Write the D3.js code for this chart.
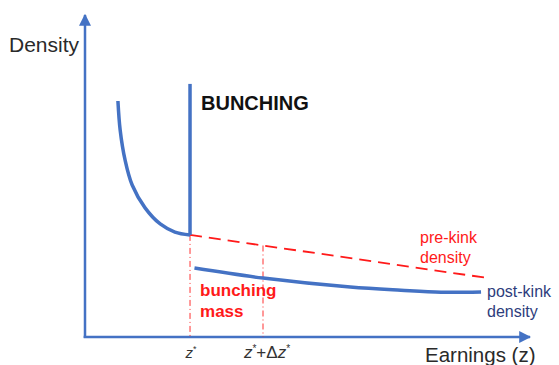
<!DOCTYPE html>
<html><head><meta charset="utf-8">
<script src="https://cdn.jsdelivr.net/npm/d3@7"></script>
<style>body{margin:0;background:#fff}text{font-family:Arial,"Liberation Sans",sans-serif}</style>
</head><body>
<svg id="c" width="559" height="365"></svg>
<script>
// abstract data units (x: earnings, y: density)
const preCurveX = [7.4, 7.9, 9.0, 10.6, 13.5, 16.9, 20.2, 23.6];
const preCurveY = [73.3, 64.3, 55.0, 47.2, 40.1, 35.1, 32.6, 31.7];
const kinkX = 23.6;
const spikeTop = 78.6;
const counterX = [23.6, 90.6];
const counterY = [31.7, 18.3];
const postX = [24.6, 40.0, 59.6, 71.0, 80.0, 89.0];
const postY = [21.4, 18.3, 15.5, 14.5, 13.9, 14.0];
const dzX = 40.0;
const tickLabels = ["z*", "z*+Δz*"];

const svg = d3.select("#c");
const x = d3.scaleLinear().domain([0, 100]).range([85, 530]);
const y = d3.scaleLinear().domain([0, 100]).range([337, 15]);
const blue = "#4472c4", red = "#ff1a1a";

const defs = svg.append("defs");
defs.append("marker").attr("id","arr").attr("viewBox","0 0 10 10").attr("refX",9).attr("refY",5)
  .attr("markerWidth",12).attr("markerHeight",12).attr("orient","auto-start-reverse").attr("markerUnits","userSpaceOnUse")
  .append("path").attr("d","M0,0L10,5L0,10z").attr("fill",blue);

// axes
svg.append("line").attr("x1",x(0)).attr("y1",y(-0.3)).attr("x2",x(0)).attr("y2",y(100))
  .attr("stroke",blue).attr("stroke-width",2.5).attr("marker-end","url(#arr)");
svg.append("line").attr("x1",x(-0.3)).attr("y1",y(0)).attr("x2",x(100)).attr("y2",y(0))
  .attr("stroke",blue).attr("stroke-width",2.5).attr("marker-end","url(#arr)");

// vertical dash-dot guides
const interpCounter = xv => counterY[0] + (counterY[1]-counterY[0])*(xv-counterX[0])/(counterX[1]-counterX[0]);
[kinkX, dzX].forEach(v => {
  svg.append("line").attr("x1",x(v)).attr("x2",x(v)).attr("y1",y(interpCounter(v))).attr("y2",y(0))
    .attr("stroke",red).attr("stroke-width",0.9).attr("stroke-dasharray","6,3,1,3");
});

// counterfactual dashed
svg.append("line").attr("x1",x(counterX[0])).attr("y1",y(counterY[0])).attr("x2",x(counterX[1])).attr("y2",y(counterY[1]))
  .attr("stroke",red).attr("stroke-width",1.8).attr("stroke-dasharray","12,7");

const line = d3.line().x(d=>x(d[0])).y(d=>y(d[1])).curve(d3.curveCatmullRom);
svg.append("path").attr("d", line(preCurveX.map((v,i)=>[v,preCurveY[i]])))
  .attr("fill","none").attr("stroke",blue).attr("stroke-width",3.5).attr("stroke-linecap","butt");
svg.append("line").attr("x1",x(kinkX)).attr("x2",x(kinkX)).attr("y1",y(preCurveY[preCurveY.length-1])).attr("y2",y(spikeTop))
  .attr("stroke",blue).attr("stroke-width",3.5);
svg.append("path").attr("d", line(postX.map((v,i)=>[v,postY[i]])))
  .attr("fill","none").attr("stroke",blue).attr("stroke-width",3.5);

// texts
const t = (xx,yy,s,o) => svg.append("text").attr("x",xx).attr("y",yy).text(s)
  .attr("font-size",o.size).attr("fill",o.fill||"#222").attr("font-weight",o.w||"normal");
t(9,52,"Density",{size:21,fill:"#2a2a2a"});
t(x(kinkX)+11,110,"BUNCHING",{size:20,w:"bold",fill:"#111"});
t(x(kinkX)+10,296,"bunching",{size:17,w:"bold",fill:red});
t(x(kinkX)+10,317,"mass",{size:17,w:"bold",fill:red});
t(420,243,"pre-kink",{size:16,fill:red});
t(420,263,"density",{size:16,fill:red});
t(487,297,"post-kink",{size:16,fill:"#2e3d7c"});
t(487,317,"density",{size:16,fill:"#2e3d7c"});
t(425,362,"Earnings (z)",{size:20.5,fill:"#2a2a2a"});

// tick labels with italic z and superscript stars
function zlabel(cx, parts, fs){
  const tx = svg.append("text").attr("x",cx).attr("y",358).attr("text-anchor","middle")
    .attr("font-size",fs).attr("fill","#333");
  parts.forEach(p=>{
    const s = tx.append("tspan").text(p.s);
    if(p.it) s.attr("font-style","italic");
    if(p.sup) s.attr("font-size",fs*0.6).attr("dy",-6);
    if(p.down) s.attr("dy",6);
  });
}
zlabel(x(kinkX)+1, [{s:tickLabels[0][0],it:1},{s:tickLabels[0][1],sup:1}], 15);
zlabel(x(dzX)+4, [{s:"z",it:1},{s:"*",sup:1},{s:"+Δ",down:1},{s:"z",it:1},{s:"*",sup:1}], 17);
</script>
</body></html>
